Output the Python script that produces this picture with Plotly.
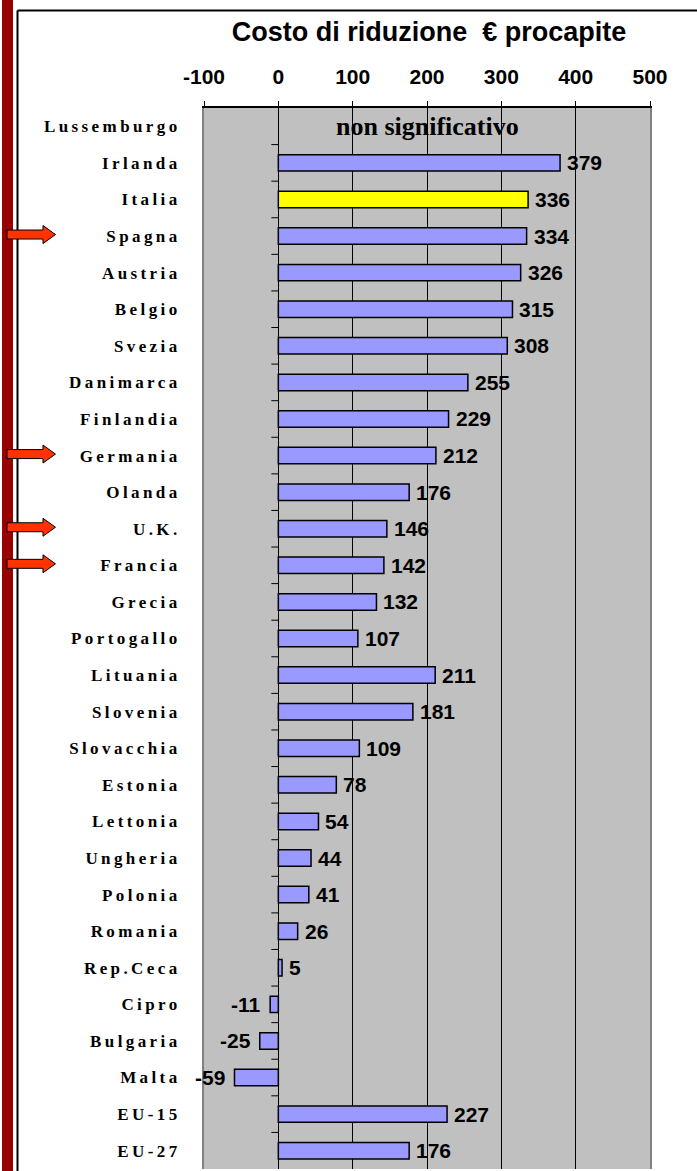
import plotly.graph_objects as go

# Costo di riduzione per paese (€ procapite)
paesi = ["Lussemburgo", "Irlanda", "Italia", "Spagna", "Austria", "Belgio", "Svezia",
         "Danimarca", "Finlandia", "Germania", "Olanda", "U.K.", "Francia", "Grecia",
         "Portogallo", "Lituania", "Slovenia", "Slovacchia", "Estonia", "Lettonia",
         "Ungheria", "Polonia", "Romania", "Rep.Ceca", "Cipro", "Bulgaria", "Malta",
         "EU-15", "EU-27"]
costo = [None, 379, 336, 334, 326, 315, 308, 255, 229, 212, 176, 146, 142, 132, 107,
         211, 181, 109, 78, 54, 44, 41, 26, 5, -11, -25, -59, 227, 176]
evidenziati = ["Spagna", "Germania", "U.K.", "Francia"]
nota_lussemburgo = "non significativo"
tick_vals = [-100, 0, 100, 200, 300, 400, 500]
tick_text = ["-100", "0", "100", "200", "300", "400", "500"]

W_FIG, H_FIG = 697, 1171
L, R, T, B = 204, 650, 108, 1169
PW, PH = R - L, B - T
N = len(paesi)


def fx(px):
    return (px - L) / PW


def fy(py):
    return (B - py) / PH


colori = ["#FFFF00" if p == "Italia" else "#9999FF" for p in paesi]

fig = go.Figure(go.Bar(
    x=costo, y=paesi, orientation="h", width=0.45,
    marker=dict(color=colori, line=dict(color="black", width=1.5)),
    hoverinfo="skip",
))

# etichette dei valori
annots = []
for p, v in zip(paesi, costo):
    if v is None:
        continue
    annots.append(dict(
        x=v, y=p, xref="x", yref="y", text=str(v), showarrow=False,
        xanchor="left" if v >= 0 else "right", xshift=5 if v >= 0 else -7,
        font=dict(family="Liberation Sans, Arial", size=21, color="black", weight="bold"),
    ))
annots.append(dict(
    x=0.5, y="Lussemburgo", xref="paper", yref="y", text=nota_lussemburgo, showarrow=False,
    font=dict(family="Liberation Serif, Times New Roman", size=26, color="black", weight="bold"),
))

shapes = []
# fascia rossa a sinistra
shapes.append(dict(type="rect", xref="paper", yref="paper", x0=fx(2), x1=fx(13),
                   y0=fy(H_FIG + 5), y1=fy(-5), fillcolor="#990000", line=dict(width=0),
                   layer="above"))
# cornice del grafico
shapes.append(dict(type="line", xref="paper", yref="paper", x0=fx(17.5), x1=fx(H_FIG),
                   y0=fy(10.5), y1=fy(10.5), line=dict(color="black", width=2)))
shapes.append(dict(type="line", xref="paper", yref="paper", x0=fx(17.5), x1=fx(17.5),
                   y0=fy(10.5), y1=fy(H_FIG + 5), line=dict(color="black", width=2)))
# tacche dell'asse delle categorie sullo zero
for k in range(1, N):
    shapes.append(dict(type="line", xref="x", xsizemode="pixel", xanchor=0, x0=-7, x1=0,
                       yref="paper", y0=1 - k / N, y1=1 - k / N,
                       line=dict(color="black", width=1)))
# frecce sui paesi evidenziati
for p in evidenziati:
    i = paesi.index(p)
    c = T + (i + 0.5) * PH / N - 1.5
    pts = [(7, c - 4.5), (43, c - 4.5), (43, c - 9), (55.5, c), (43, c + 9), (43, c + 4.5), (7, c + 4.5)]
    path = "M " + " L ".join(f"{fx(a):.5f},{fy(b):.5f}" for a, b in pts) + " Z"
    shapes.append(dict(type="path", xref="paper", yref="paper", path=path,
                       fillcolor="#FF3300", line=dict(color="black", width=1), layer="above"))

fig.update_layout(
    width=W_FIG, height=H_FIG,
    margin=dict(l=L, r=W_FIG - R, t=T, b=H_FIG - B),
    paper_bgcolor="white", plot_bgcolor="#C0C0C0",
    showlegend=False,
    title=dict(text="Costo di riduzione\u00a0 € procapite", x=429 / W_FIG, xanchor="center",
               xref="container", y=1 - 32 / H_FIG, yanchor="middle", yref="container",
               font=dict(family="Liberation Sans, Arial", size=27, color="black", weight="bold")),
    xaxis=dict(side="top", range=[-100, 500], tickvals=tick_vals, ticktext=tick_text,
               ticks="outside", ticklen=5, tickcolor="black", tickwidth=1,
               ticklabelstandoff=9,
               tickfont=dict(family="Liberation Sans, Arial", size=21, color="black", weight="bold"),
               showgrid=True, gridcolor="black", gridwidth=1,
               zeroline=True, zerolinecolor="black", zerolinewidth=1,
               showline=True, linecolor="black", linewidth=1.5, mirror=False, fixedrange=True),
    yaxis=dict(categoryorder="array", categoryarray=paesi, range=[N - 0.5, -0.5],
               ticks="", ticklabelstandoff=18,
               tickfont=dict(family="Liberation Serif, Times New Roman", size=17, color="black", weight="bold"),
               showgrid=False, zeroline=False,
               showline=True, linecolor="#808080", linewidth=2, mirror=True, fixedrange=True),
    annotations=annots,
    shapes=shapes,
)

spaziatura = """
document.querySelectorAll('.ytick text').forEach(function (t) { t.style.letterSpacing = '3.4px'; });
"""

fig.write_html("out.html", post_script=spaziatura, config={"displayModeBar": False})
